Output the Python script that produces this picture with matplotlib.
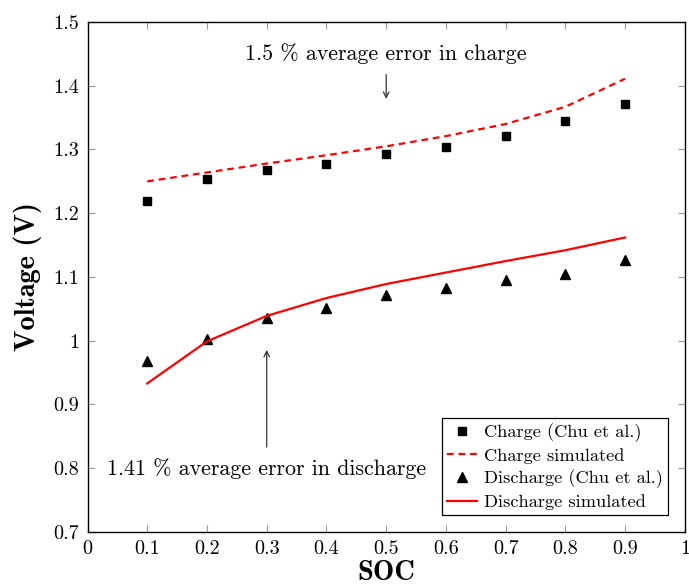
import matplotlib
matplotlib.use("Agg")
import matplotlib.pyplot as plt
from matplotlib import font_manager as fm
import os

plt.rcParams['font.family'] = 'serif'
plt.rcParams['font.serif'] = ['cmr10', 'DejaVu Serif']
plt.rcParams['mathtext.fontset'] = 'cm'
plt.rcParams['axes.formatter.use_mathtext'] = True
plt.rcParams['axes.unicode_minus'] = False

bold_path = os.path.join(matplotlib.get_data_path(), 'fonts', 'ttf', 'cmb10.ttf')
bold_fp = fm.FontProperties(fname=bold_path, size=20.5)

soc = [0.1, 0.2, 0.3, 0.4, 0.5, 0.6, 0.7, 0.8, 0.9]
charge_exp = [1.219, 1.254, 1.268, 1.277, 1.293, 1.304, 1.321, 1.344, 1.371]
charge_sim = [1.250, 1.264, 1.278, 1.291, 1.305, 1.321, 1.340, 1.367, 1.411]
discharge_exp = [0.969, 1.002, 1.035, 1.052, 1.071, 1.082, 1.096, 1.105, 1.127]
discharge_sim = [0.933, 0.999, 1.039, 1.067, 1.089, 1.107, 1.125, 1.142, 1.162]

xticks = [0, 0.1, 0.2, 0.3, 0.4, 0.5, 0.6, 0.7, 0.8, 0.9, 1]
xticklabels = ['0', '0.1', '0.2', '0.3', '0.4', '0.5', '0.6', '0.7', '0.8', '0.9', '1']
yticks = [0.7, 0.8, 0.9, 1.0, 1.1, 1.2, 1.3, 1.4, 1.5]
yticklabels = ['0.7', '0.8', '0.9', '1', '1.1', '1.2', '1.3', '1.4', '1.5']

fig = plt.figure(figsize=(6.89, 5.85), dpi=100)
ax = fig.add_axes([0.127, 0.0906, 0.867, 0.8718])

ax.plot(soc, charge_exp, 's', color='black', markersize=6, linestyle='none',
        label='Charge (Chu et al.)')
ax.plot(soc, charge_sim, '--', color='red', linewidth=1.6, dashes=(3, 2.2),
        label='Charge simulated')
ax.plot(soc, discharge_exp, '^', color='black', markersize=7.5, linestyle='none',
        label='Discharge (Chu et al.)')
ax.plot(soc, discharge_sim, '-', color='red', linewidth=1.6,
        label='Discharge simulated')

ax.set_xlim(0, 1)
ax.set_ylim(0.7, 1.5)
ax.set_xticks(xticks)
ax.set_xticklabels(xticklabels)
ax.set_yticks(yticks)
ax.set_yticklabels(yticklabels)
ax.tick_params(direction='in', top=True, right=True, length=5, width=0.8,
               color='#999999', labelsize=14.5, pad=6)
for s in ax.spines.values():
    s.set_linewidth(1.0)

ax.set_xlabel('SOC', fontproperties=bold_fp, labelpad=1)
ax.set_ylabel('Voltage (V)', fontproperties=bold_fp, labelpad=8)

ax.annotate('', xy=(0.5, 1.375), xytext=(0.5, 1.422),
            arrowprops=dict(arrowstyle='->', color='#333333', lw=0.9))
ax.text(0.5, 1.450, '1.5 % average error in charge', ha='center', va='center',
        fontsize=15.8)
ax.annotate('', xy=(0.3, 0.990), xytext=(0.3, 0.829),
            arrowprops=dict(arrowstyle='->', color='#333333', lw=0.9))
ax.text(0.3, 0.80, '1.41 % average error in discharge', ha='center', va='center',
        fontsize=15.8)

leg = ax.legend(loc='lower right', fontsize=13.2, frameon=True, fancybox=False,
                edgecolor='black', framealpha=1, borderpad=0.3, labelspacing=0.32,
                handlelength=1.6, handletextpad=0.4, borderaxespad=0.9)
leg.get_frame().set_linewidth(0.9)

fig.savefig('out.png', dpi=100)
